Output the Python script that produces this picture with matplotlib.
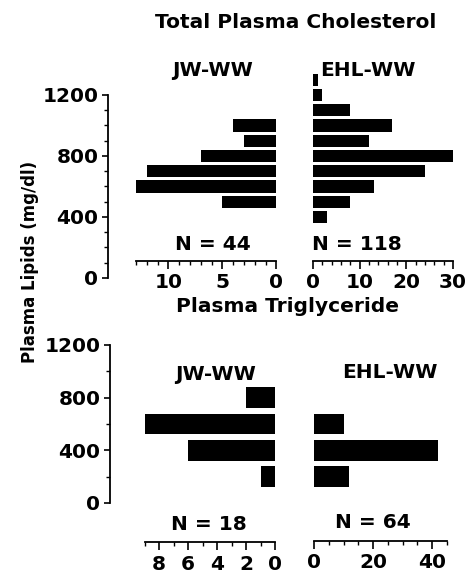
import matplotlib
matplotlib.use("Agg")
import matplotlib.pyplot as plt
from matplotlib.ticker import MultipleLocator, FixedLocator

# ---- data ----
chol_jw_bins = [500, 600, 700, 800, 900, 1000]
chol_jw_counts = [5, 13, 12, 7, 3, 4]
chol_ehl_bins = [400, 500, 600, 700, 800, 900, 1000, 1100, 1200, 1300]
chol_ehl_counts = [3, 8, 13, 24, 30, 12, 17, 8, 2, 1]
tg_jw_bins = [200, 400, 600, 800]
tg_jw_counts = [1, 6, 9, 2]
tg_ehl_bins = [200, 400, 600]
tg_ehl_counts = [12, 42, 10]
y_ticks = [0, 400, 800, 1200]
n_labels = ["N = 44", "N = 118", "N = 18", "N = 64"]

W, H = 476, 575
plt.rcParams['font.family'] = ['DejaVu Sans']
plt.rcParams['font.weight'] = 'bold'
FS = 14.5
fig = plt.figure(figsize=(W / 100, H / 100), dpi=100)


def ax_px(x0, x1, ytop, ybot):
    return fig.add_axes([x0 / W, 1 - ybot / H, (x1 - x0) / W, (ybot - ytop) / H])


def txt(x, y, s, **kw):
    fig.text(x / W, 1 - y / H, s, ha='center', va='center', fontsize=FS, **kw)


def yaxis(xpx, y0px, y1200px, minor):
    a = ax_px(xpx, xpx + 5, y1200px, y0px)
    a.set_ylim(0, 1200)
    for s in ['top', 'right', 'bottom']:
        a.spines[s].set_visible(False)
    a.spines['left'].set_linewidth(1.3)
    a.set_xticks([])
    a.set_yticks(y_ticks)
    a.yaxis.set_minor_locator(MultipleLocator(minor))
    a.tick_params(axis='y', which='major', length=4, width=1.2, labelsize=FS, pad=3)
    a.tick_params(axis='y', which='minor', length=3, width=1.0)
    a.patch.set_visible(False)
    return a


def barpanel(x0px, x1px, xlim, y0px, y1200px, spine_px, top_px, bins, counts, h,
             major, minor, labels):
    scale = (y0px - y1200px) / 1200.0
    vb = (y0px - spine_px) / scale
    vt = (y0px - top_px) / scale
    a = ax_px(x0px, x1px, top_px, spine_px)
    a.barh(bins, counts, height=h, color='black', left=0)
    a.set_xlim(*xlim)
    a.set_ylim(vb, vt)
    for s in ['top', 'right', 'left']:
        a.spines[s].set_visible(False)
    a.spines['bottom'].set_linewidth(1.3)
    a.set_yticks([])
    a.xaxis.set_major_locator(FixedLocator(major))
    a.set_xticklabels(labels)
    a.xaxis.set_minor_locator(MultipleLocator(minor))
    a.tick_params(axis='x', which='major', length=6, width=1.2, labelsize=FS, pad=3)
    a.tick_params(axis='x', which='minor', length=3, width=1.0)
    a.patch.set_visible(False)
    return a


# top
yaxis(108, 278, 95, 100)
barpanel(136, 276.5, (13, 0), 278, 95, 261, 60, chol_jw_bins, chol_jw_counts, 80,
         [10, 5, 0], 1, ['10', '5', '0'])
barpanel(313, 453, (0, 30), 278, 95, 261, 60, chol_ehl_bins, chol_ehl_counts, 80,
         [0, 10, 20, 30], 2, ['0', '10', '20', '30'])
# bottom
yaxis(110, 503, 345, 200)
barpanel(144.5, 275, (9, 0), 503, 345, 542, 330, tg_jw_bins, tg_jw_counts, 155,
         [8, 6, 4, 2, 0], 1, ['8', '6', '4', '2', '0'])
barpanel(314, 446.75, (0, 45), 503, 345, 541, 330, tg_ehl_bins, tg_ehl_counts, 155,
         [0, 20, 40], 5, ['0', '20', '40'])

txt(296, 22, "Total Plasma Cholesterol")
txt(213, 70, "JW-WW")
txt(368, 70, "EHL-WW")
txt(213, 245, n_labels[0])
txt(357, 245, n_labels[1])
txt(287, 306, "Plasma Triglyceride")
txt(216, 375, "JW-WW")
txt(390, 373, "EHL-WW")
txt(209, 525, n_labels[2])
txt(373, 523, n_labels[3])
fig.text(30 / W, 1 - 262 / H, "Plasma Lipids (mg/dl)", rotation=90,
         ha='center', va='center', fontsize=12)

fig.savefig("out.png", dpi=100)
